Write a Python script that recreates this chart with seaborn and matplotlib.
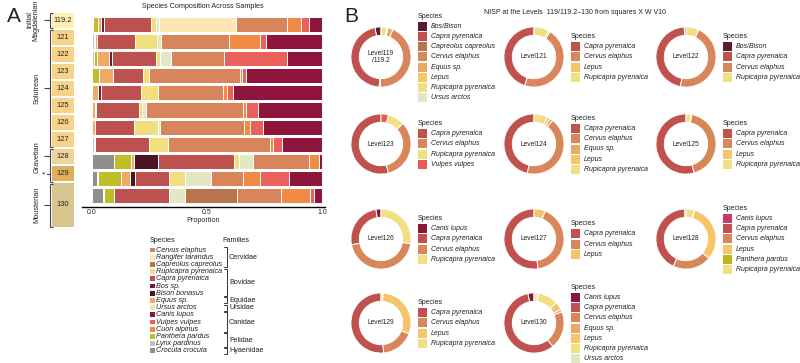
import matplotlib
matplotlib.use("Agg")
import matplotlib.pyplot as plt
from matplotlib.patches import Rectangle
import numpy as np
import pandas as pd
import seaborn as sns

# ---- panel A data: proportions ----
levels = ["119.2", "121", "122", "123", "124", "125", "126", "127", "128", "129", "130"]

crocuta   = [0, 0, 0, 0, 0, 0, 0, 0, .094, .022, .048]
lynx      = [.004, .008, .011, 0, 0, 0, 0, .007, 0, .004, .004]
panthera  = [.022, .005, .010, .033, 0, 0, 0, 0, .076, .098, .043]
equus     = [.012, .010, .054, .058, .026, .012, .014, .007, .012, .039, 0]
bos       = [.014, 0, .011, 0, .014, .007, 0, 0, 0, 0, 0]
bison     = [0, 0, 0, 0, 0, 0, 0, 0, .104, .022, 0]
capra     = [.204, .162, .190, .130, .170, .185, .166, .236, .332, .149, .238]
rupicapra = [.024, .097, .018, .026, .072, .013, .104, .079, .021, .067, 0]
ursus     = [.011, .018, .047, 0, 0, .016, .009, 0, .062, .113, .072]
rangifer  = [.336, 0, 0, 0, 0, 0, 0, 0, 0, 0, 0]
capreolus = [0, 0, 0, 0, 0, 0, 0, 0, 0, 0, .227]
cervus    = [.223, .293, .230, .395, .281, .418, .363, .447, .244, .140, .188]
cuon      = [.061, .133, 0, .012, .015, .013, .029, .012, .041, .072, .127]
vulpes    = [.036, .025, .275, .017, .026, .051, .055, .039, 0, .123, .017]
canis     = [.055, .242, .150, .329, .382, .278, .255, .173, .014, .144, .036]

stack_order = ['Crocuta crocuta', 'Lynx pardinus', 'Panthera pardus', 'Equus sp.', 'Bos sp.',
               'Bison bonasus', 'Capra pyrenaica', 'Rupicapra pyrenaica', 'Ursus arctos',
               'Rangifer tarandus', 'Capreolus capreolus', 'Cervus elaphus', 'Cuon alpinus',
               'Vulpes vulpes', 'Canis lupus']
legend_order = ['Cervus elaphus', 'Rangifer tarandus', 'Capreolus capreolus', 'Rupicapra pyrenaica',
                'Capra pyrenaica', 'Bos sp.', 'Bison bonasus', 'Equus sp.', 'Ursus arctos',
                'Canis lupus', 'Vulpes vulpes', 'Cuon alpinus', 'Panthera pardus',
                'Lynx pardinus', 'Crocuta crocuta']
families = [('Cervidae', 0, 2), ('Bovidae', 3, 6), ('Equidae', 7, 7), ('Ursidae', 8, 8),
            ('Canidae', 9, 11), ('Felidae', 12, 13), ('Hyaenidae', 14, 14)]

colA = {'Cervus elaphus': '#d8855b', 'Rangifer tarandus': '#fde6b4', 'Capreolus capreolus': '#b8744a',
        'Rupicapra pyrenaica': '#f1de7f', 'Capra pyrenaica': '#bd5150', 'Bos sp.': '#6e1d3a',
        'Bison bonasus': '#4d1524', 'Equus sp.': '#eeaa66', 'Ursus arctos': '#e4e7c3',
        'Canis lupus': '#8e153b', 'Vulpes vulpes': '#e9615a', 'Cuon alpinus': '#f08a45',
        'Panthera pardus': '#bfbd2a', 'Lynx pardinus': '#c2c2c2', 'Crocuta crocuta': '#8f8f8f'}

# ---- panel B data: NISP percentages per level ----
sp119 = ['Bos/Bison', 'Capra pyrenaica', 'Capreolus capreolus', 'Cervus elaphus', 'Equus sp.',
         'Lepus', 'Rupicapra pyrenaica', 'Ursus arctos']
val119 = [3.3, 45.8, 0.6, 43.9, 2.8, 0.6, 2.8, 0.3]
sp121 = ['Capra pyrenaica', 'Cervus elaphus', 'Lepus', 'Rupicapra pyrenaica']
val121 = [45, 46, 1, 8]
sp122 = ['Bos/Bison', 'Capra pyrenaica', 'Cervus elaphus', 'Rupicapra pyrenaica']
val122 = [1, 46, 46, 7]
sp123 = ['Capra pyrenaica', 'Cervus elaphus', 'Rupicapra pyrenaica', 'Vulpes vulpes']
val123 = [54, 33, 9, 4]
sp124 = ['Capra pyrenaica', 'Cervus elaphus', 'Equus sp.', 'Lepus', 'Rupicapra pyrenaica']
val124 = [46.4, 43, 1.7, 1.7, 7.2]
sp125 = ['Capra pyrenaica', 'Cervus elaphus', 'Lepus', 'Rupicapra pyrenaica']
val125 = [54.4, 42.5, 0.3, 2.8]
sp126 = ['Canis lupus', 'Capra pyrenaica', 'Cervus elaphus', 'Rupicapra pyrenaica']
val126 = [2.8, 25.3, 44.4, 27.5]
sp127 = ['Capra pyrenaica', 'Cervus elaphus', 'Lepus']
val127 = [52.2, 41.7, 6.1]
sp128 = ['Canis lupus', 'Capra pyrenaica', 'Cervus elaphus', 'Lepus', 'Panthera pardus',
         'Rupicapra pyrenaica']
val128 = [0.8, 42.2, 20.8, 31.4, 0.3, 4.4]
sp129 = ['Capra pyrenaica', 'Cervus elaphus', 'Lepus', 'Rupicapra pyrenaica']
val129 = [51.4, 17.8, 29.7, 1.1]
sp130 = ['Canis lupus', 'Capra pyrenaica', 'Cervus elaphus', 'Equus sp.', 'Lepus',
         'Rupicapra pyrenaica', 'Ursus arctos']
val130 = [3.3, 57.5, 20.3, 1.4, 4.2, 11.1, 2.2]

colB = {'Bos/Bison': '#5b1a2e', 'Canis lupus': '#8c1538', 'Capra pyrenaica': '#bf514e',
        'Capreolus capreolus': '#b8744b', 'Cervus elaphus': '#d9865a', 'Equus sp.': '#eba864',
        'Lepus': '#f5c56b', 'Panthera pardus': '#b7b81f', 'Rupicapra pyrenaica': '#f0df83',
        'Ursus arctos': '#e1e6c3', 'Vulpes vulpes': '#e95b52'}

sns.set_style("white")
plt.rcParams['font.family'] = ['Liberation Sans', 'DejaVu Sans']
plt.rcParams['text.color'] = '#222222'

W, H = 800, 363
fig = plt.figure(figsize=(8, 3.63), dpi=100)


def px_axes(x0, y0, w, h):
    return fig.add_axes([x0 / W, 1 - (y0 + h) / H, w / W, h / H])


bg = fig.add_axes([0, 0, 1, 1])
bg.set_xlim(0, W)
bg.set_ylim(H, 0)
bg.axis('off')

# ---------------- panel A ----------------
comp = pd.DataFrame({'Crocuta crocuta': crocuta, 'Lynx pardinus': lynx, 'Panthera pardus': panthera,
                     'Equus sp.': equus, 'Bos sp.': bos, 'Bison bonasus': bison,
                     'Capra pyrenaica': capra, 'Rupicapra pyrenaica': rupicapra,
                     'Ursus arctos': ursus, 'Rangifer tarandus': rangifer,
                     'Capreolus capreolus': capreolus, 'Cervus elaphus': cervus,
                     'Cuon alpinus': cuon, 'Vulpes vulpes': vulpes, 'Canis lupus': canis},
                    index=levels)
comp = comp.div(comp.sum(axis=1), axis=0)
cum = comp[stack_order].cumsum(axis=1)

axA = px_axes(82, 14, 243, 193)
for sp in reversed(stack_order):
    sns.barplot(x=cum[sp].values, y=levels, order=levels, orient='h', color=colA[sp],
                saturation=1, width=0.88, edgecolor='white', linewidth=0.7,
                errorbar=None, ax=axA)
axA.set_xlim(-0.043, 1.013)
axA.set_ylim(10.67, -0.61)
axA.set_yticks([])
axA.set_ylabel('')
axA.set_xticks([0, 0.5, 1])
axA.set_xticklabels(['0.0', '0.5', '1.0'], fontsize=5)
axA.tick_params(axis='x', length=0, pad=1.5)
for s in ['top', 'right', 'left']:
    axA.spines[s].set_visible(False)
axA.spines['bottom'].set_color('black')
axA.spines['bottom'].set_linewidth(1)
axA.set_xlabel('Proportion', fontsize=5.2, labelpad=1)
axA.patch.set_alpha(0)

bg.text(203, 6, 'Species Composition Across Samples', ha='center', va='center', fontsize=5.2)
bg.text(14, 17, 'A', ha='center', va='center', fontsize=15)

# level boxes
box_labels = ["119.2", "121", "122", "123", "124", "125", "126", "127", "128", "129", "130"]
box_colors = ['#fcf0b4'] + ['#f8d288'] * 7 + ['#eed49a', '#e1ae5e', '#d8c58f']
for i, (lab, c) in enumerate(zip(box_labels, box_colors)):
    y0, h = (12 + 17 * i, 17) if i < 10 else (182, 46)
    bg.add_patch(Rectangle((52, y0 + 0.6), 22, h - 1.2, facecolor=c, edgecolor='none'))
    bg.text(63, y0 + h / 2, lab, ha='center', va='center', fontsize=5.4)


def bracket(y0, y1, ym):
    kw = dict(color='#444444', lw=0.8, solid_capstyle='butt')
    bg.plot([50, 50], [y0, y1], **kw)
    bg.plot([50, 53], [y0, y0], **kw)
    bg.plot([50, 53], [y1, y1], **kw)
    bg.plot([44, 50], [ym, ym], **kw)


bracket(13, 28, 20)
bracket(30, 147, 88)
bracket(149, 182, 156)
bracket(184, 227, 205)
bg.plot([47, 50], [174, 174], color='#444444', lw=0.8)
bg.text(44, 175, '*', ha='center', va='center', fontsize=6)
bg.text(33, 20, 'Initial\nMagdalenian', rotation=90, ha='center', va='center',
        fontsize=5.2, linespacing=0.9)
bg.text(37, 88, 'Solutrean', rotation=90, ha='center', va='center', fontsize=5.3)
bg.text(37, 157, 'Gravetian', rotation=90, ha='center', va='center', fontsize=5.3)
bg.text(37, 205, 'Mousterian', rotation=90, ha='center', va='center', fontsize=5.3)

# panel A legend with families
bg.text(150, 241, 'Species', va='center', fontsize=5.2)
bg.text(222, 241, 'Families', va='center', fontsize=5.2)
item_y = [250 + 7.2 * k for k in range(len(legend_order))]
for sp, y in zip(legend_order, item_y):
    bg.add_patch(Rectangle((150, y - 2.4), 4.8, 4.8, facecolor=colA[sp], lw=0))
    bg.text(156.5, y, sp, va='center', fontsize=5.2, style='italic')
for fam, a, b in families:
    ya, yb = item_y[a] - 3, item_y[b] + 3
    kw = dict(color='#333333', lw=0.7)
    bg.plot([224, 227, 227, 224], [ya, ya, yb, yb], **kw)
    bg.text(229, (ya + yb) / 2, fam, va='center', fontsize=5.2)

# ---------------- panel B ----------------
bg.text(351, 17, 'B', ha='center', va='center', fontsize=15)
bg.text(575, 12, 'NISP at the Levels  119/119.2\u2013130 from squares X W V10',
        ha='center', va='center', fontsize=5)

donuts = [('Level119\n/119.2', sp119, val119), ('Level121', sp121, val121),
          ('Level122', sp122, val122), ('Level123', sp123, val123),
          ('Level124', sp124, val124), ('Level125', sp125, val125),
          ('Level126', sp126, val126), ('Level127', sp127, val127),
          ('Level128', sp128, val128), ('Level129', sp129, val129),
          ('Level130', sp130, val130)]
col_x = [381, 534, 686]
row_y = [57, 144, 239, 323]

for k, (lab, sps, vals) in enumerate(donuts):
    cx, cy = col_x[k % 3], row_y[k // 3]
    cols = [colB[s] for s in sps]
    if lab == 'Level128':
        cols = ['#c83a6e' if s == 'Canis lupus' else c for s, c in zip(sps, cols)]
    ax = px_axes(cx - 31, cy - 31, 62, 62)
    ax.pie(vals, colors=cols, startangle=90, counterclock=True,
           wedgeprops=dict(width=0.28, edgecolor='white', linewidth=0.7))
    ax.set_xlim(-1.03, 1.03)
    ax.set_ylim(-1.03, 1.03)
    ax.text(0, 0, lab, ha='center', va='center', fontsize=4.8, linespacing=1.0)

    lx = cx + 37
    n = len(sps)
    bg.text(lx, cy + (-1 - (n - 1) / 2) * 10.2 + 5, 'Species', va='center', fontsize=5)
    for j, (s, c) in enumerate(zip(sps, cols)):
        y = cy + (j - (n - 1) / 2) * 10.2 + 5
        bg.add_patch(Rectangle((lx, y - 4.5), 9, 9, facecolor=c, lw=0))
        bg.text(lx + 13, y, s, va='center', fontsize=5, style='italic')

fig.savefig('out.png', dpi=100)
